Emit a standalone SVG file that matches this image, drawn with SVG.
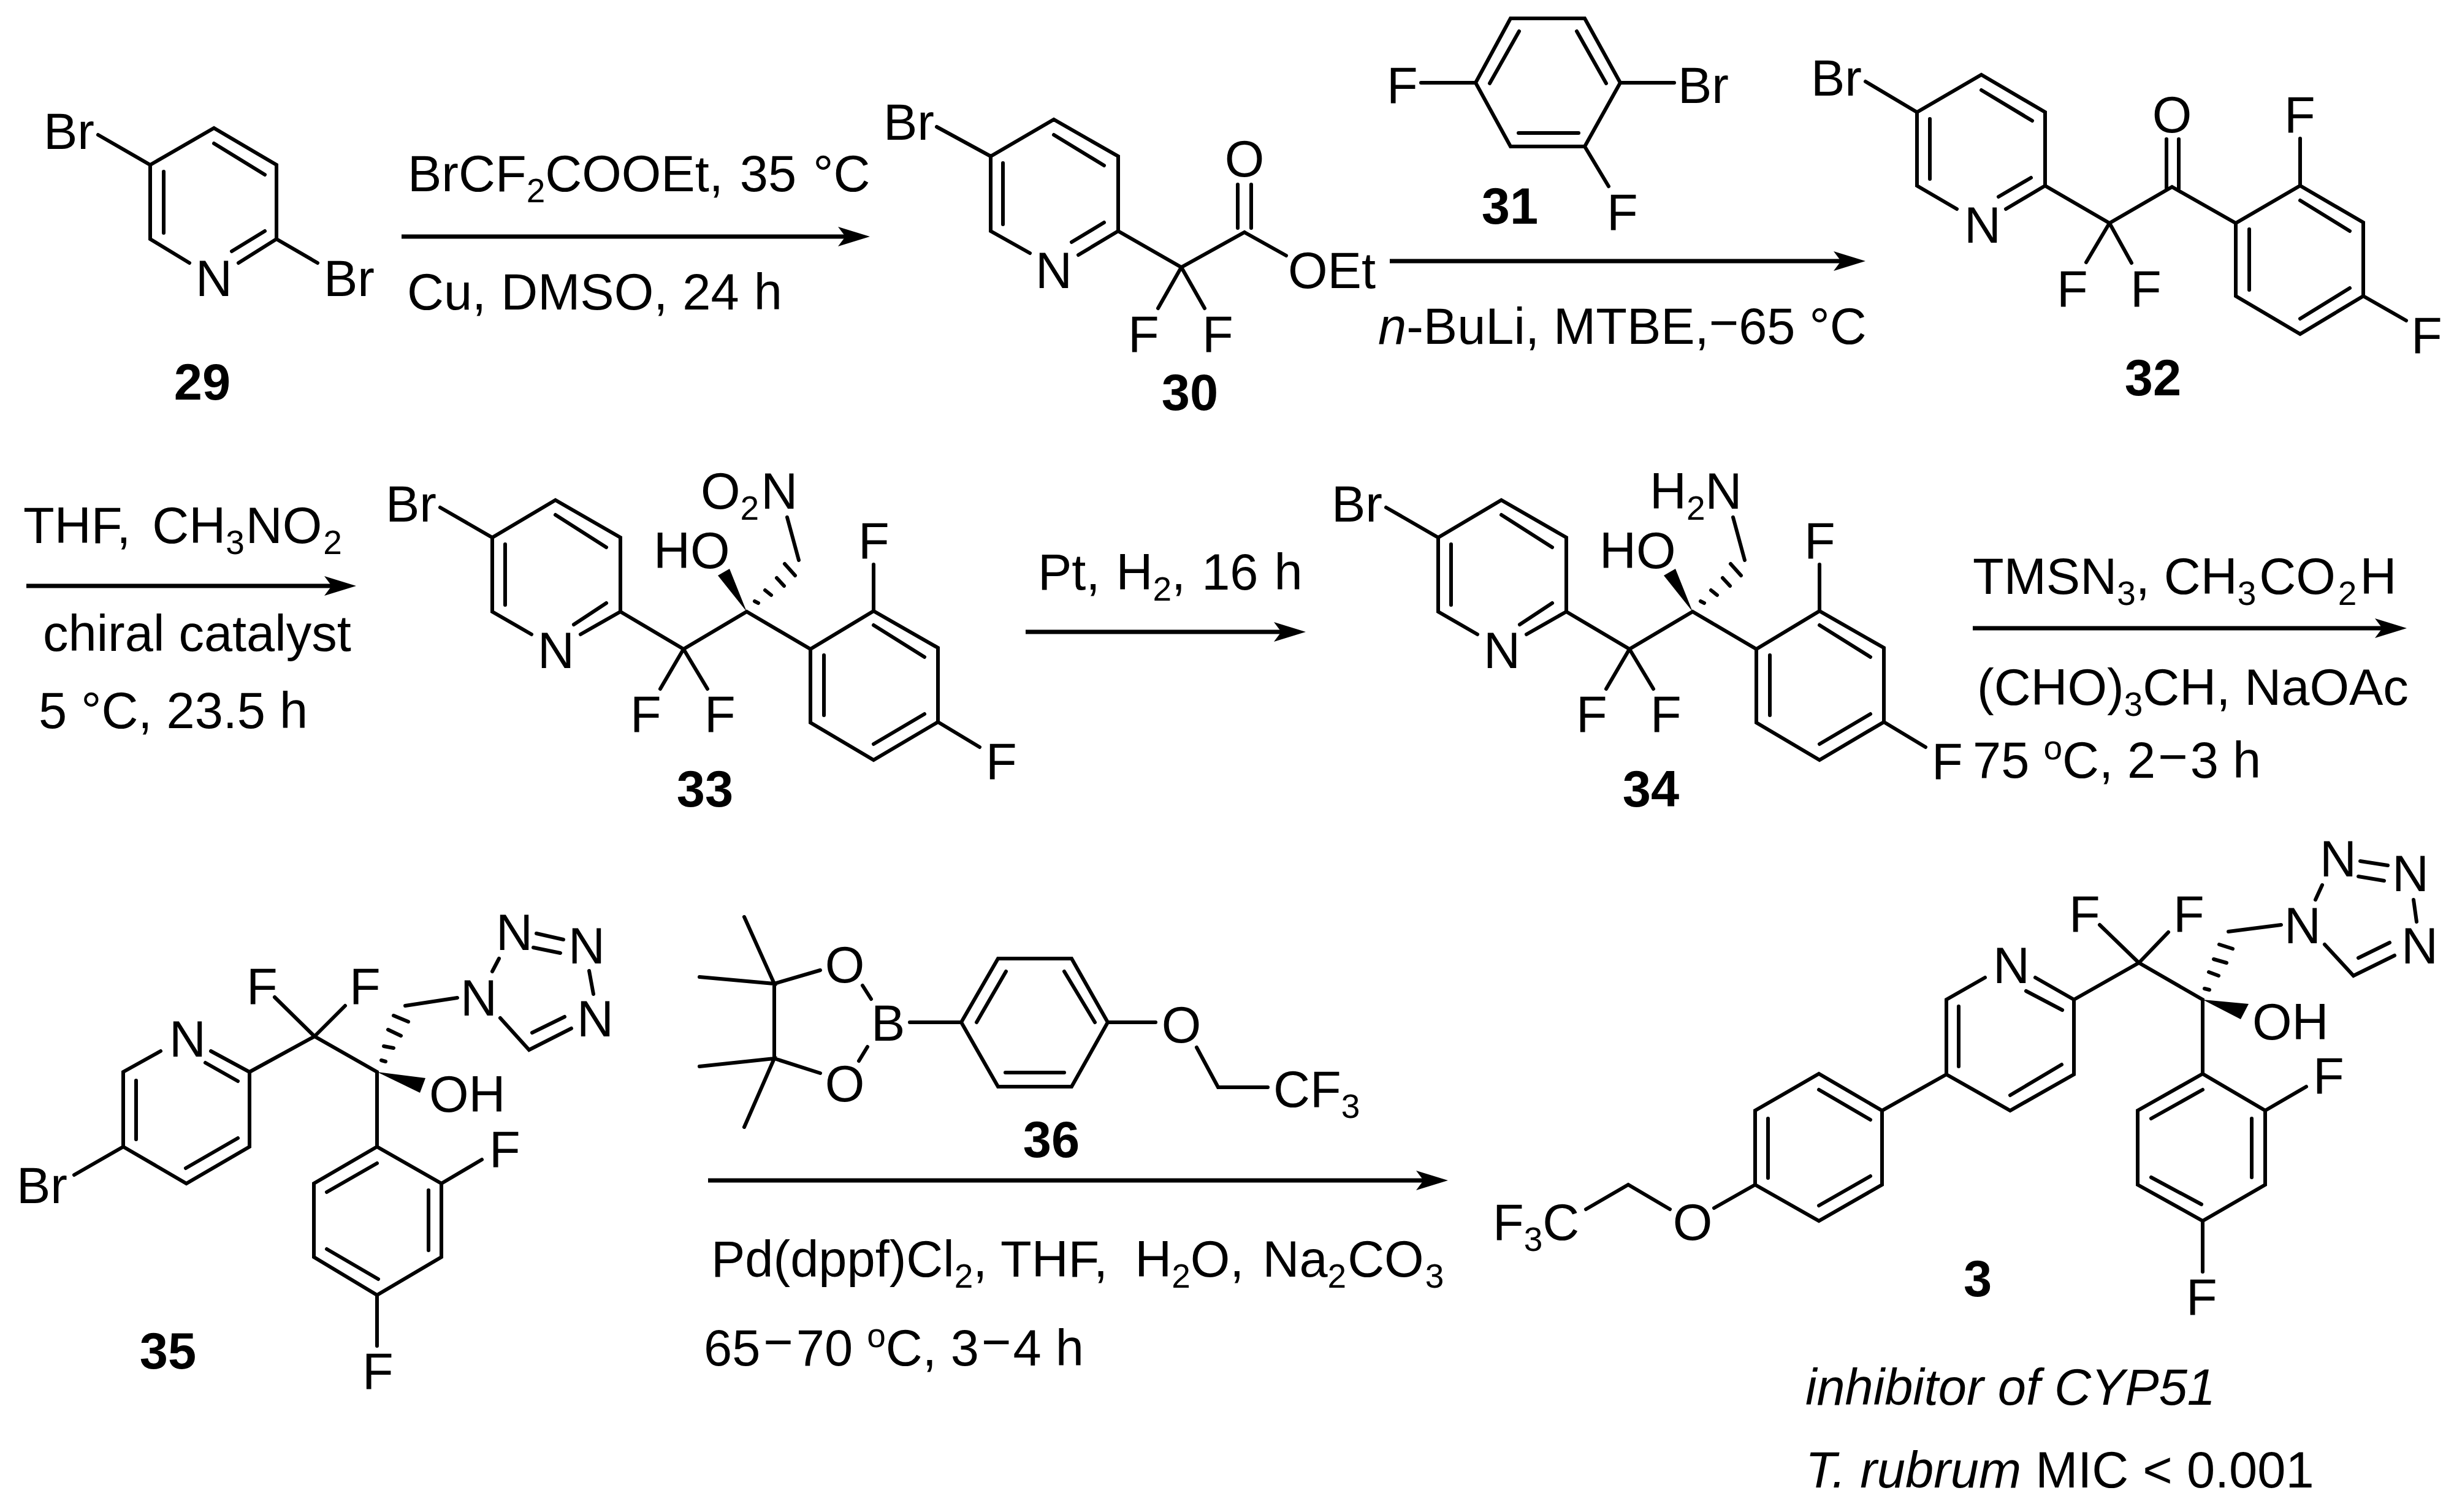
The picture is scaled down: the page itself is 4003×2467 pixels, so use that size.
<svg xmlns="http://www.w3.org/2000/svg" width="4003" height="2467" viewBox="0 0 4003 2467">
<style>
text{font-family:"Liberation Sans",Arial,sans-serif;font-size:83px;fill:#000}
.b{font-weight:bold}
.i{font-style:italic}
.m{text-anchor:middle}
.s{font-size:55px}
.bond{fill:none;stroke:#000;stroke-width:6;stroke-linecap:round;stroke-linejoin:miter}
.wedge{fill:#000;stroke:none}
.arr{fill:none;stroke:#000;stroke-width:7;marker-end:url(#head)}
</style>
<defs>
<marker id="head" markerUnits="userSpaceOnUse" markerWidth="52" markerHeight="32" viewBox="0 0 52 32" refX="32" refY="16" orient="auto"><path d="M52,16 L0,0 L12,16 L0,32 Z" fill="#000"/></marker>
<g id="core">
<path class="bond" d="M718,828 L803,877 L906,816 L1012,877 L1012,998 M803,877 L803,998 L867,1035 M1012,998 L947,1035 M906,840 L989,893 M824,888 L824,987 M989,984 L936,1019 M1012,998 L1115,1059 L1218,998 L1322,1059 L1425,997 L1530,1057 L1530,1178 L1425,1240 L1322,1179 L1322,1059 M1115,1059 L1077,1124 M1115,1059 L1154,1124 M1425,1020 L1508,1072 M1344,1069 L1344,1167 M1508,1165 L1425,1214 M1425,997 L1425,921 M1530,1178 L1598,1219 M1284,844 L1303,914 M1231,981 L1237,984 M1248,963 L1258,971 M1267,943 L1279,956 M1280,920 L1297,939"/>
<path class="wedge" d="M1218,998 L1171,939 L1190,928 Z"/>
</g>
</defs>
<g id="connectors">
<path class="arr" d="M655,386 H1399"/>
<path class="arr" d="M2267,426 H3023"/>
<path class="arr" d="M43,956 H561"/>
<path class="arr" d="M1673,1031 H2110"/>
<path class="arr" d="M3218,1025 H3906"/>
<path class="arr" d="M1155,1926 H2342"/>
</g>
<g id="m29">
<path class="bond" d="M160,220 L245,269 L349,209 L451,269 L451,390 L518,429 M245,269 L245,390 L309,429 M451,390 L389,429 M349,234 L432,285 M267,280 L267,380 M432,377 L378,410"/>
<text x="71" y="243">Br</text><text x="319" y="483">N</text><text x="528" y="483">Br</text>
<text class="b m" x="330" y="652">29</text>
</g>
<g id="r1">
<text x="665" y="312" word-spacing="4">BrCF<tspan class="s" dy="18">2</tspan><tspan dy="-18">COOEt, 35 °C</tspan></text>
<text x="664" y="505" word-spacing="1">Cu, DMSO, 24 h</text>
</g>
<g id="m30">
<path class="bond" d="M1528,207 L1616,255 L1719,195 L1824,255 L1824,377 L1927,436 L2030,379 L2098,417 M1616,255 L1616,377 L1680,413 M1824,377 L1759,416 M1719,220 L1801,270 M1636,266 L1636,366 M1801,363 L1748,395 M2019,301 L2019,372 M2041,301 L2041,372 M1927,436 L1889,503 M1927,436 L1965,503"/>
<text x="1441" y="228">Br</text><text x="1689" y="470">N</text><text class="m" x="2030" y="288">O</text><text x="2101" y="470">OEt</text><text x="1840" y="574">F</text><text x="1961" y="574">F</text>
<text class="b m" x="1941" y="669">30</text>
</g>
<g id="m31">
<path class="bond" d="M2464,30 L2585,30 L2643,135 L2585,239 L2464,239 L2407,135 Z M2478,51 L2430,136 M2572,51 L2620,136 M2477,217 L2575,217 M2318,135 L2407,135 M2643,135 L2731,135 M2585,239 L2624,304"/>
<text x="2262" y="168">F</text><text x="2737" y="168">Br</text><text x="2621" y="375">F</text>
<text class="b m" x="2463" y="365">31</text>
</g>
<g id="r2">
<text x="2248" y="561"><tspan class="i">n</tspan>-BuLi, MTBE,<tspan dy="-6">−</tspan><tspan dy="6">65 °C</tspan></text>
</g>
<g id="m32">
<path class="bond" d="M3043,133 L3127,183 L3232,122 L3336,183 L3336,303 L3441,364 L3543,305 L3647,364 L3752,303 L3855,363 L3855,483 L3752,545 L3647,483 L3647,364 M3127,183 L3127,303 L3192,341 M3336,303 L3272,341 M3232,147 L3315,197 M3148,194 L3148,292 M3313,290 L3260,321 M3534,227 L3534,308 M3554,227 L3554,308 M3752,327 L3833,377 M3669,374 L3669,473 M3833,470 L3752,520 M3752,303 L3752,226 M3855,483 L3925,523 M3441,364 L3403,428 M3441,364 L3477,429"/>
<text x="2954" y="156">Br</text><text x="3204" y="396">N</text><text class="m" x="3543" y="216">O</text><text x="3726" y="216">F</text><text x="3933" y="576">F</text><text x="3355" y="500">F</text><text x="3475" y="500">F</text>
<text class="b m" x="3512" y="645">32</text>
</g>
<g id="r3">
<text x="38" y="886" word-spacing="12">THF, CH<tspan class="s" dy="18">3</tspan><tspan dy="-18" dx="2">NO</tspan><tspan class="s" dy="18" dx="2">2</tspan></text>
<text x="70" y="1062">chiral catalyst</text>
<text x="63" y="1188">5 °C, 23.5 h</text>
</g>
<g id="m33">
<use href="#core"/>
<text x="629" y="851">Br</text><text x="877" y="1090">N</text><text x="1028" y="1194">F</text><text x="1149" y="1194">F</text><text x="1066" y="927">HO</text>
<text x="1143" y="830">O<tspan class="s" dy="18">2</tspan><tspan dy="-18" dx="3">N</tspan></text><text x="1400" y="911">F</text><text x="1608" y="1271">F</text>
<text class="b m" x="1150" y="1316">33</text>
</g>
<g id="r4">
<text x="1693" y="962" word-spacing="3">Pt, H<tspan class="s" dy="18">2</tspan><tspan dy="-18">, 16 h</tspan></text>
</g>
<g id="m34">
<use href="#core" transform="translate(1543 0)"/>
<text x="2172" y="851">Br</text><text x="2420" y="1090">N</text><text x="2571" y="1194">F</text><text x="2692" y="1194">F</text><text x="2609" y="927">HO</text>
<text x="2691" y="830">H<tspan class="s" dy="18">2</tspan><tspan dy="-18">N</tspan></text><text x="2943" y="911">F</text><text x="3151" y="1271">F</text>
<text class="b m" x="2693" y="1316">34</text>
</g>
<g id="r5">
<text x="3218" y="969">TMSN<tspan class="s" dy="18">3</tspan><tspan dy="-18">, CH</tspan><tspan class="s" dy="18">3</tspan><tspan dy="-18" dx="5">CO</tspan><tspan class="s" dy="18" dx="4">2</tspan><tspan dy="-18" dx="5">H</tspan></text>
<text x="3225" y="1150">(CHO)<tspan class="s" dy="18">3</tspan><tspan dy="-18">CH, NaOAc</tspan></text>
<text x="3218" y="1269">75 <tspan class="s" dy="-30">o</tspan><tspan dy="30">C, 2</tspan><tspan dy="-6" dx="4">−</tspan><tspan dy="6" dx="4">3 h</tspan></text>
</g>
<g id="m35">
<path class="bond" d="M121,1917 L201,1871 L201,1749 L262,1715 M344,1715 L407,1749 L407,1871 L304,1931 L201,1871 M388,1764 L335,1734 M222,1763 L222,1859 M388,1857 L303,1906 M407,1749 L513,1691 L615,1749 L615,1871 L720,1931 L720,2051 L615,2113 L512,2051 L512,1931 L615,1871 M513,1691 L448,1627 M513,1691 L563,1641 M533,1945 L615,1898 M699,1942 L699,2040 M533,2038 L617,2087 M720,1931 L786,1892 M615,2113 L615,2196 M622,1730 L629,1732 M626,1707 L642,1710 M633,1680 L654,1690 M642,1657 L666,1667 M661,1641 L746,1628 M816,1661 L863,1713 L932,1678 M868,1685 L921,1659 M803,1585 L814,1564 M875,1523 L919,1533 M870,1546 L914,1555 M961,1584 L968,1622"/>
<path class="wedge" d="M615,1749 L694,1759 L685,1783 Z"/>
<text x="27" y="1963">Br</text><text x="276" y="1724">N</text><text x="402" y="1638">F</text><text x="570" y="1638">F</text><text x="700" y="1814">OH</text><text x="798" y="1904">F</text><text x="591" y="2266">F</text>
<text x="751" y="1657">N</text><text x="809" y="1550">N</text><text x="927" y="1572">N</text><text x="941" y="1691">N</text>
<text class="b m" x="274" y="2233">35</text>
</g>
<g id="m36">
<path class="bond" d="M1263,1605 L1263,1727 M1214,1496 L1263,1605 L1141,1594 M1141,1740 L1263,1727 L1214,1839 M1263,1605 L1338,1583 M1263,1727 L1338,1751 M1407,1608 L1421,1630 M1415,1708 L1401,1731 M1484,1668 L1568,1668 L1628,1564 L1748,1564 L1807,1668 L1748,1773 L1628,1773 L1568,1668 M1641,1585 L1593,1668 M1736,1585 L1786,1668 M1640,1750 L1736,1750 M1807,1668 L1885,1668 M1952,1709 L1987,1774 L2068,1774"/>
<text class="m" x="1378" y="1603">O</text><text class="m" x="1378" y="1797">O</text><text x="1421" y="1698">B</text><text class="m" x="1927" y="1701">O</text>
<text x="2077" y="1806">CF<tspan class="s" dy="18">3</tspan></text>
<text class="b m" x="1715" y="1888">36</text>
</g>
<g id="r6">
<text x="1160" y="2083">Pd(dppf)Cl<tspan class="s" dy="18">2</tspan><tspan dy="-18">, THF, </tspan><tspan dx="21">H</tspan><tspan class="s" dy="18">2</tspan><tspan dy="-18">O, </tspan><tspan dx="7">Na</tspan><tspan class="s" dy="18">2</tspan><tspan dy="-18" dx="2">CO</tspan><tspan class="s" dy="18" dx="2">3</tspan></text>
<text x="1148" y="2228">65<tspan dy="-10" dx="5">−</tspan><tspan dy="10" dx="5">70 </tspan><tspan class="s" dy="-30">o</tspan><tspan dy="30">C, 3</tspan><tspan dy="-10" dx="4">−</tspan><tspan dy="10" dx="3">4 h</tspan></text>
</g>
<g id="m3">
<path class="bond" d="M3238,1595 L3175,1631 L3175,1753 L3279,1812 L3383,1753 L3383,1631 L3320,1595 M3364,1648 L3305,1617 M3195,1642 L3195,1740 M3363,1737 L3279,1787 M3383,1631 L3489,1571 L3593,1631 L3593,1752 L3695,1812 L3695,1933 L3593,1992 L3487,1933 L3487,1812 L3593,1752 M3489,1571 L3425,1509 M3489,1571 L3537,1521 M3509,1825 L3593,1778 M3673,1825 L3673,1921 M3509,1921 L3591,1965 M3695,1812 L3762,1773 M3593,1992 L3593,2075 M3596,1613 L3604,1615 M3603,1586 L3619,1592 M3611,1565 L3632,1571 M3620,1541 L3642,1548 M3635,1520 L3721,1509 M3792,1541 L3839,1592 L3906,1559 M3847,1563 L3898,1538 M3777,1468 L3788,1444 M3850,1405 L3895,1412 M3847,1430 L3889,1437 M3937,1468 L3942,1504 M3175,1753 L3070,1812 L2967,1752 L2863,1812 L2863,1933 L2967,1992 L3070,1933 L3070,1812 M2967,1778 L3051,1827 M2884,1825 L2884,1922 M3051,1919 L2967,1967 M2863,1933 L2796,1971 M2724,1973 L2656,1933 L2587,1973"/>
<path class="wedge" d="M3593,1631 L3668,1638 L3655,1663 Z"/>
<text x="3251" y="1604">N</text><text x="3375" y="1520">F</text><text x="3545" y="1520">F</text><text x="3674" y="1696">OH</text><text x="3773" y="1784">F</text><text x="3566" y="2145">F</text>
<text x="3726" y="1539">N</text><text x="3784" y="1430">N</text><text x="3902" y="1454">N</text><text x="3917" y="1572">N</text>
<text class="m" x="2761" y="2023">O</text><text x="2435" y="2023">F<tspan class="s" dy="18">3</tspan><tspan dy="-18">C</tspan></text>
<text class="b m" x="3226" y="2115">3</text>
</g>
<g id="notes">
<text class="i" x="2945" y="2292">inhibitor of CYP51</text>
<text x="2945" y="2427"><tspan class="i">T. rubrum</tspan> MIC &lt; 0.001</text>
</g>
</svg>
